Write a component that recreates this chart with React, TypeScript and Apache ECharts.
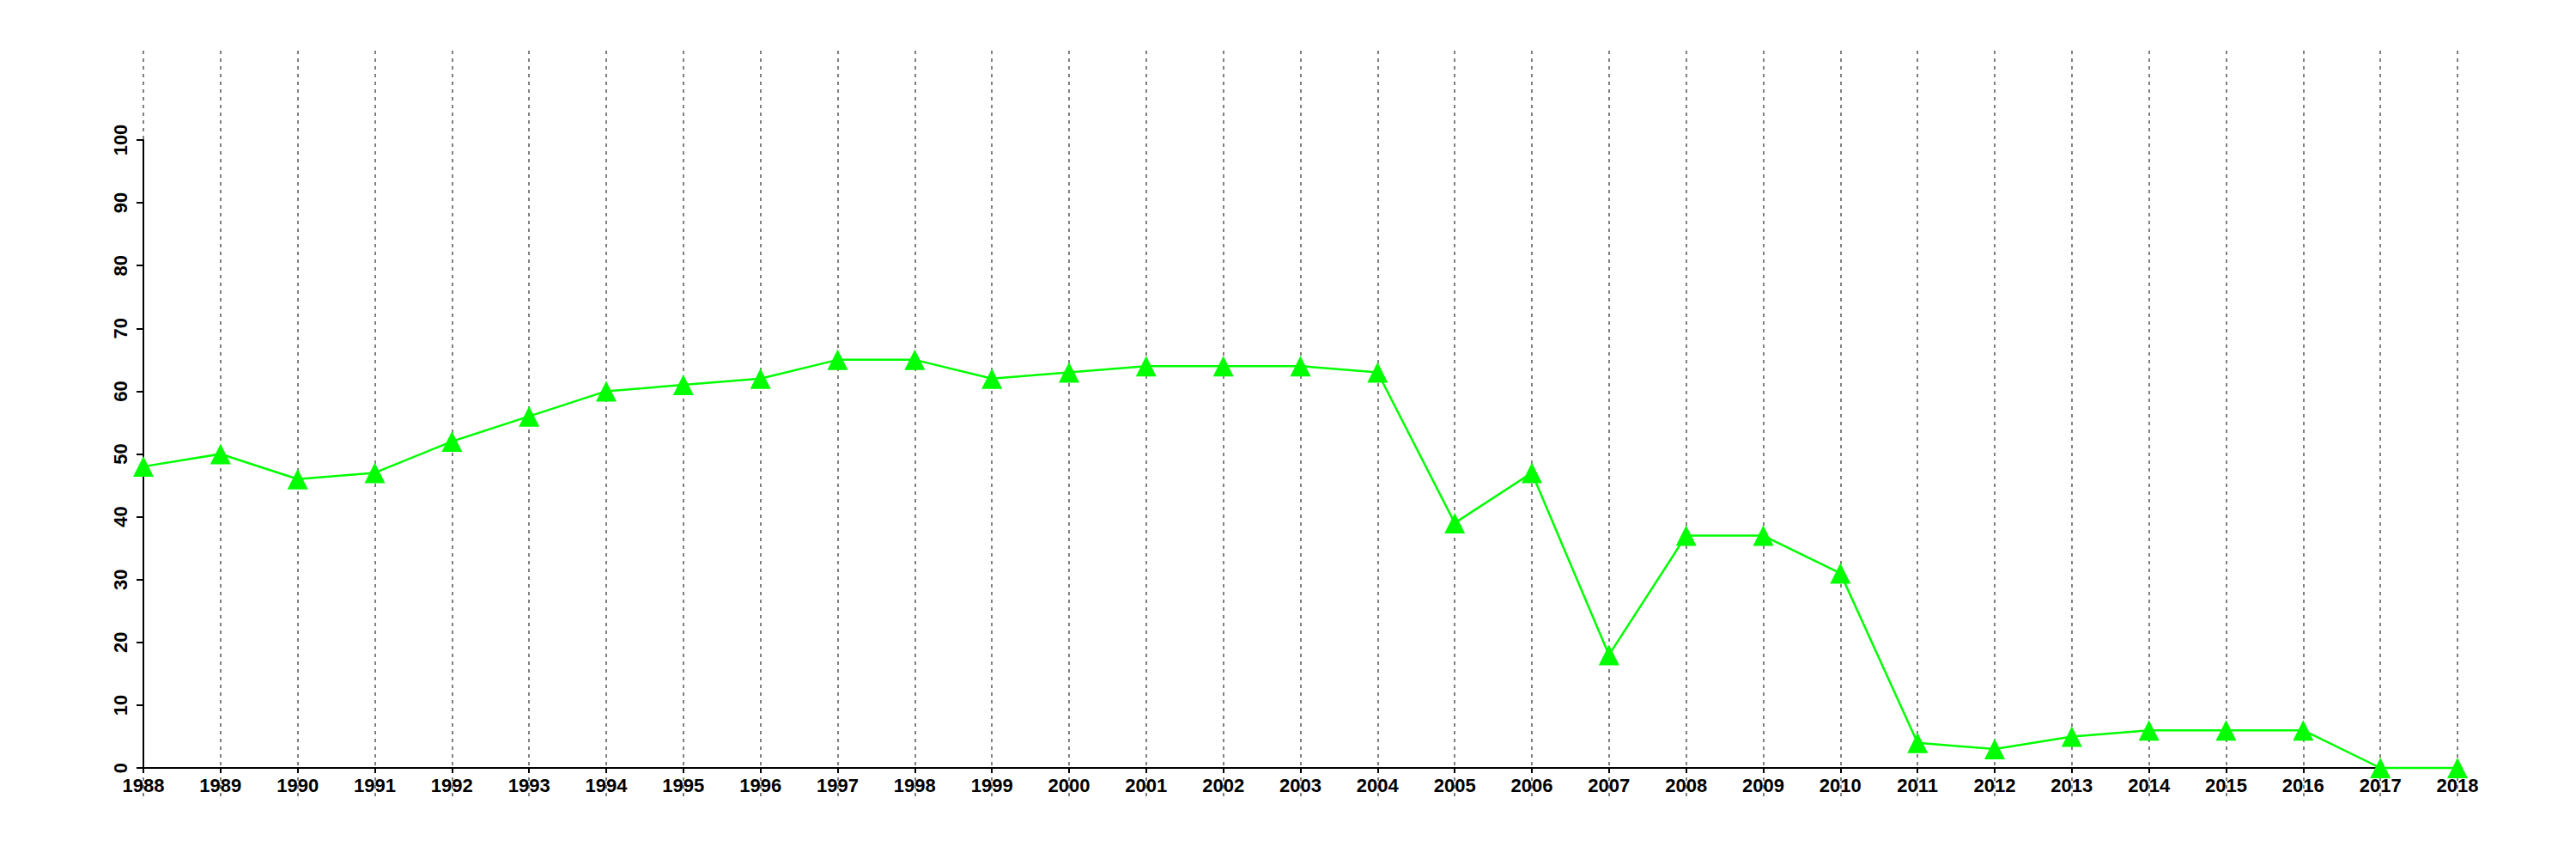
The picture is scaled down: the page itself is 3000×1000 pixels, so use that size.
import React, { useEffect, useRef } from "react";
import * as echarts from "echarts";

const years: number[] = [
  1988, 1989, 1990, 1991, 1992, 1993, 1994, 1995, 1996, 1997, 1998, 1999, 2000,
  2001, 2002, 2003, 2004, 2005, 2006, 2007, 2008, 2009, 2010, 2011, 2012, 2013,
  2014, 2015, 2016, 2017, 2018,
];
const values: number[] = [
  48, 50, 46, 47, 52, 56, 60, 61, 62, 65, 65, 62, 63, 64, 64, 64, 63, 39, 47, 18,
  37, 37, 31, 4, 3, 5, 6, 6, 6, 0, 0,
];
const yMin = 0;
const yMax = 100;
const yStep = 10;
const xMin = 1988;
const xMax = 2018;

const FONT = "'Liberation Sans', Arial, Helvetica, sans-serif";

export default function App() {
  const ref = useRef<HTMLDivElement>(null);
  useEffect(() => {
    if (!ref.current) return;
    const chart = echarts.init(ref.current, undefined, { renderer: "svg" });
    const left = 167;
    const right = 138;
    chart.setOption({
      animation: false,
      backgroundColor: "#ffffff",
      grid: [
        { left, right, top: 163, bottom: 106, containLabel: false },
        { left, right, top: 59, bottom: 73, containLabel: false },
      ],
      xAxis: [
        {
          type: "value",
          gridIndex: 0,
          min: xMin,
          max: xMax,
          interval: 1,
          axisLine: { show: true, onZero: false, lineStyle: { color: "#000", width: 2 } },
          axisTick: { show: true, length: 6, lineStyle: { color: "#000", width: 2 } },
          axisLabel: {
            show: true,
            margin: 9,
            color: "#000",
            fontFamily: FONT,
            fontWeight: "bold",
            fontSize: 22,
            formatter: (v: number) => String(v),
          },
          splitLine: { show: false },
        },
        {
          type: "value",
          gridIndex: 1,
          min: xMin,
          max: xMax,
          interval: 1,
          axisLine: { show: false },
          axisTick: { show: false },
          axisLabel: { show: false },
          splitLine: {
            show: true,
            lineStyle: { color: "#808080", width: 2, type: [4, 5] },
          },
        },
      ],
      yAxis: [
        {
          type: "value",
          gridIndex: 0,
          min: yMin,
          max: yMax,
          interval: yStep,
          axisLine: { show: true, onZero: false, lineStyle: { color: "#000", width: 2 } },
          axisTick: { show: true, length: 8, lineStyle: { color: "#000", width: 2 } },
          axisLabel: {
            show: true,
            rotate: 90,
            margin: 16,
            color: "#000",
            fontFamily: FONT,
            fontWeight: "bold",
            fontSize: 22,
          },
          splitLine: { show: false },
        },
        {
          type: "value",
          gridIndex: 1,
          min: 0,
          max: 1,
          show: false,
          splitLine: { show: false },
        },
      ],
      series: [
        {
          type: "line",
          xAxisIndex: 0,
          yAxisIndex: 0,
          data: years.map((y, i) => [y, values[i]]),
          symbol: "triangle",
          symbolSize: 24,
          showAllSymbol: true,
          clip: false,
          lineStyle: { color: "#00ff00", width: 2.5 },
          itemStyle: { color: "#00ff00", borderWidth: 0 },
          z: 5,
        },
      ],
    });
    return () => chart.dispose();
  }, []);
  return (
    <div
      ref={ref}
      style={{ position: "fixed", left: 0, top: 0, width: 3000, height: 1000 }}
    />
  );
}
